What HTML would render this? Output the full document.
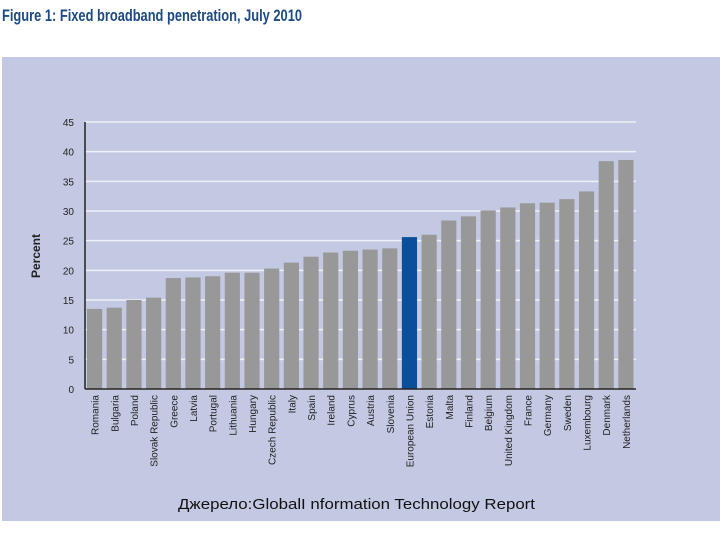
<!DOCTYPE html>
<html><head><meta charset="utf-8"><style>
body{margin:0;width:720px;height:540px;background:#fff;overflow:hidden;font-family:"Liberation Sans",sans-serif;}
svg{display:block}
</style></head><body>
<svg id="chart" width="720" height="540">
<text x="2" y="21" font-family="Liberation Sans Narrow, Liberation Sans, sans-serif" font-weight="bold" font-size="17" fill="#1d4a80" textLength="300" lengthAdjust="spacingAndGlyphs">Figure 1: Fixed broadband penetration, July 2010</text>
<rect x="2" y="57" width="718" height="464" fill="#c4c9e3"/>
<g id="grid"></g>
<g id="bars"></g>
<g id="labels"></g>
<text transform="translate(40,256) rotate(-90)" text-anchor="middle" font-weight="bold" font-size="12" fill="#222">Percent</text>
<text x="178" y="509" font-size="15" fill="#111" textLength="357" lengthAdjust="spacingAndGlyphs">Джерело:GlobalI nformation Technology Report</text>
</svg>
<script>
const categories=["Romania","Bulgaria","Poland","Slovak Republic","Greece","Latvia","Portugal","Lithuania","Hungary","Czech Republic","Italy","Spain","Ireland","Cyprus","Austria","Slovenia","European Union","Estonia","Malta","Finland","Belgium","United Kingdom","France","Germany","Sweden","Luxembourg","Denmark","Netherlands"];
const values=[13.5,13.7,15,15.4,18.7,18.8,19,19.6,19.6,20.3,21.3,22.3,23,23.3,23.5,23.7,25.6,26,28.4,29.1,30.1,30.6,31.3,31.4,32,33.3,38.4,38.6];
const yTicks=[0,5,10,15,20,25,30,35,40,45];
const NS="http://www.w3.org/2000/svg";
const x0=85,x1=636,yTop=122,yBot=389,yMax=45;
const y=v=>yBot-(v/yMax)*(yBot-yTop);
const step=(x1-x0)/categories.length;
const bx=i=>x0+i*step+2;
const bw=step-4.5;
function mk(tag,attrs,parent){const e=document.createElementNS(NS,tag);for(const k in attrs)e.setAttribute(k,attrs[k]);parent.appendChild(e);return e;}
const grid=document.getElementById('grid'),bars=document.getElementById('bars'),labels=document.getElementById('labels');
yTicks.forEach(t=>{
  const l=mk('line',{x1:x0,x2:x1,y1:y(t),y2:y(t),stroke:'#eef0f8','stroke-width':1.5},grid);
  
  
  const tx=mk('text',{x:74,y:y(t)+4,'text-anchor':'end','font-size':10,fill:'#222'},grid);
  tx.textContent=t;
  
  
});
const ax=mk('line',{x1:x0,x2:x0,y1:yTop,y2:yBot,stroke:'#222','stroke-width':1.5},grid);


categories.forEach((c,i)=>{
  const r=mk('rect',{x:bx(i),y:y(values[i]),width:bw,height:yBot-y(values[i]),fill:c==="European Union"?'#0a4f9a':'#989898'},bars);
  
  
  const cx=bx(i)+bw/2+4;
  const t=mk('text',{transform:`translate(${cx},395) rotate(-90)`,'text-anchor':'end','font-size':10,fill:'#222'},labels);
  t.textContent=c;
  
  
});
const xa=mk('line',{x1:x0,x2:x1,y1:yBot,y2:yBot,stroke:'#222','stroke-width':1.5},grid);


bars.parentNode.appendChild(xa);
</script>
</body></html>
